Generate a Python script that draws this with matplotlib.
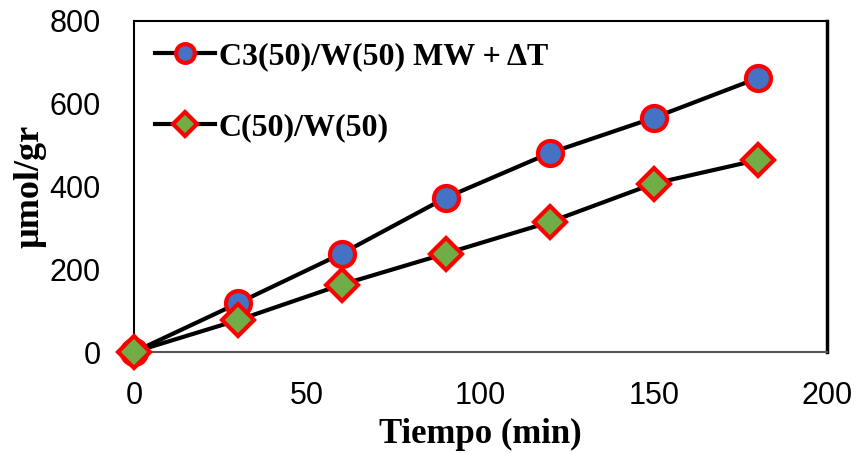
import matplotlib
matplotlib.use("Agg")
import matplotlib.pyplot as plt

# Time points (min) and adsorbed amount (µmol/gr)
tiempo = [0, 30, 60, 90, 120, 150, 180]
c3_mw = [0, 118, 238, 373, 481, 566, 662]
c_w = [0, 77, 163, 238, 314, 407, 464]

labels = ["C3(50)/W(50) MW + ΔT", "C(50)/W(50)"]

fig = plt.figure(figsize=(8.56, 4.53), dpi=100)
ax = fig.add_axes([134 / 856, 1 - 352 / 453, (827 - 134) / 856, (352 - 21) / 453])

ax.plot(tiempo, c3_mw, color="black", lw=3, marker="o", ms=18,
        mfc="#4472C4", mec="#FF0000", mew=3, label=labels[0], zorder=3,
        clip_on=False)
ax.plot(tiempo, c_w, color="black", lw=3, marker="D", ms=16,
        mfc="#70AD47", mec="#FF0000", mew=3, label=labels[1], zorder=4,
        clip_on=False)

ax.set_xlim(0, 200)
ax.set_ylim(0, 800)
ax.set_xticks([0, 50, 100, 150, 200])
ax.set_yticks([0, 200, 400, 600, 800])
ax.tick_params(axis="x", length=0, pad=21, labelsize=22)
ax.tick_params(axis="y", length=0, pad=24, labelsize=22)
for lab in ax.get_xticklabels() + ax.get_yticklabels():
    lab.set_fontfamily("Liberation Sans")

for side, sp in ax.spines.items():
    sp.set_color("black")
    sp.set_linewidth(1.5)
ax.spines["right"].set_linewidth(2.5)
ax.spines["bottom"].set_color("#555555")

ax.set_xlabel("Tiempo (min)", fontfamily="Liberation Serif", fontweight="bold",
              fontsize=25, labelpad=5)
ax.set_ylabel("µmol/gr", fontfamily="Liberation Serif", fontweight="bold",
              fontsize=26, labelpad=2)

leg = ax.legend(loc="upper left", frameon=False, handlelength=1.9,
                handletextpad=0.1, labelspacing=1.3, borderaxespad=0.35,
                borderpad=0.3,
                prop={"family": "Liberation Serif", "weight": "bold", "size": 23},
                markerscale=0.75)

fig.savefig("out.png", dpi=100)
